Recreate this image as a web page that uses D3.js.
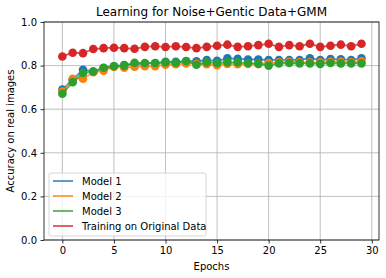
<!DOCTYPE html>
<html>
<head>
<meta charset="utf-8">
<script src="https://cdn.jsdelivr.net/npm/d3@7"></script>
<style>
  body { margin: 0; background: #fff; }
  text { font-family: "DejaVu Sans", sans-serif; fill: #000; }
</style>
</head>
<body>
<script>
// accuracy per epoch
var epochs = d3.range(0, 30);
var model1 = [0.690, 0.735, 0.781, 0.773, 0.789, 0.797, 0.803, 0.807, 0.809, 0.811,
              0.817, 0.818, 0.820, 0.820, 0.825, 0.822, 0.833, 0.831, 0.828, 0.828,
              0.826, 0.826, 0.826, 0.826, 0.833, 0.826, 0.830, 0.829, 0.826, 0.833];
var model2 = [0.681, 0.740, 0.740, 0.770, 0.776, 0.795, 0.790, 0.795, 0.797, 0.797,
              0.804, 0.806, 0.810, 0.808, 0.806, 0.802, 0.808, 0.806, 0.808, 0.808,
              0.812, 0.815, 0.818, 0.815, 0.815, 0.815, 0.818, 0.818, 0.815, 0.820];
var model3 = [0.671, 0.724, 0.766, 0.773, 0.790, 0.797, 0.800, 0.813, 0.812, 0.812,
              0.815, 0.813, 0.821, 0.804, 0.815, 0.812, 0.816, 0.815, 0.812, 0.808,
              0.800, 0.810, 0.812, 0.810, 0.810, 0.808, 0.812, 0.810, 0.810, 0.810];
var original = [0.842, 0.859, 0.857, 0.876, 0.880, 0.882, 0.880, 0.877, 0.886, 0.889,
                0.885, 0.889, 0.885, 0.880, 0.886, 0.891, 0.896, 0.886, 0.889, 0.894,
                0.900, 0.886, 0.894, 0.889, 0.900, 0.886, 0.891, 0.896, 0.889, 0.900];
var seriesNames = ["Model 1", "Model 2", "Model 3", "Training on Original Data"];
var colors = ["#1f77b4", "#ff7f0e", "#2ca02c", "#d62728"];
var xTicks = [0, 5, 10, 15, 20, 25, 30];
var yTicks = [0, 0.2, 0.4, 0.6, 0.8, 1.0];

var W = 386, H = 278;
var pLeft = 44, pRight = 379, pTop = 22, pBottom = 240;

var svg = d3.select("body").append("svg").attr("width", W).attr("height", H);

var x = d3.scaleLinear().domain([-1.78, 30.7]).range([pLeft, pRight]);
var y = d3.scaleLinear().domain([0, 1]).range([pBottom, pTop]);

// grid
var grid = svg.append("g").attr("stroke", "#b0b0b0").attr("stroke-width", 0.8);
grid.selectAll(".gx").data(xTicks).enter().append("line")
  .attr("x1", function(d) { return x(d); }).attr("x2", function(d) { return x(d); })
  .attr("y1", pTop).attr("y2", pBottom);
grid.selectAll(".gy").data(yTicks).enter().append("line")
  .attr("x1", pLeft).attr("x2", pRight)
  .attr("y1", function(d) { return y(d); }).attr("y2", function(d) { return y(d); });

// lines + markers
var allSeries = [model1, model2, model3, original];
var line = d3.line().x(function(d, i) { return x(epochs[i]); }).y(function(d) { return y(d); });
allSeries.forEach(function(s, k) {
  var g = svg.append("g");
  g.append("path").datum(s).attr("d", line).attr("fill", "none")
    .attr("stroke", colors[k]).attr("stroke-width", 1.8).attr("stroke-opacity", 0.8);
  g.selectAll("circle").data(s).enter().append("circle")
    .attr("cx", function(d, i) { return x(epochs[i]); })
    .attr("cy", function(d) { return y(d); })
    .attr("r", 4.3).attr("fill", colors[k]);
});

// axes
var xAxis = d3.axisBottom(x).tickValues(xTicks).tickSize(3.5).tickPadding(3.5).tickFormat(d3.format("d"));
var yAxis = d3.axisLeft(y).tickValues(yTicks).tickSize(3.5).tickPadding(3.5).tickFormat(d3.format(".1f"));
var gx = svg.append("g").attr("transform", "translate(0," + pBottom + ")").call(xAxis);
var gy = svg.append("g").attr("transform", "translate(" + pLeft + ",0)").call(yAxis);
[gx, gy].forEach(function(g) {
  g.select(".domain").remove();
  g.selectAll("line").attr("stroke", "#000").attr("stroke-width", 0.8);
  g.selectAll("text").attr("font-size", 10).attr("font-family", "DejaVu Sans");
});

svg.append("rect").attr("x", pLeft).attr("y", pTop).attr("width", pRight - pLeft).attr("height", pBottom - pTop)
  .attr("fill", "none").attr("stroke", "#000").attr("stroke-width", 0.8);

// text
svg.append("text").attr("x", (pLeft + pRight) / 2).attr("y", 16).attr("text-anchor", "middle")
  .attr("font-size", 12).text("Learning for Noise+Gentic Data+GMM");
svg.append("text").attr("x", (pLeft + pRight) / 2).attr("y", 270).attr("text-anchor", "middle")
  .attr("font-size", 10).text("Epochs");
svg.append("text").attr("transform", "translate(14," + ((pTop + pBottom) / 2) + ") rotate(-90)")
  .attr("text-anchor", "middle").attr("font-size", 10).text("Accuracy on real images");

// legend
var lg = svg.append("g").attr("transform", "translate(49,173)");
lg.append("rect").attr("width", 157).attr("height", 63).attr("rx", 2)
  .attr("fill", "#fff").attr("fill-opacity", 0.8).attr("stroke", "#cccccc").attr("stroke-width", 0.8);
var items = lg.selectAll(".item").data(seriesNames).enter().append("g")
  .attr("transform", function(d, i) { return "translate(0," + (8 + i * 15) + ")"; });
items.append("line").attr("x1", 4).attr("x2", 24).attr("y1", 0).attr("y2", 0)
  .attr("stroke", function(d, i) { return colors[i]; }).attr("stroke-width", 1.8).attr("stroke-opacity", 0.8);
items.append("text").attr("x", 33).attr("y", 3.6).attr("font-size", 10).text(function(d) { return d; });
</script>
</body>
</html>
